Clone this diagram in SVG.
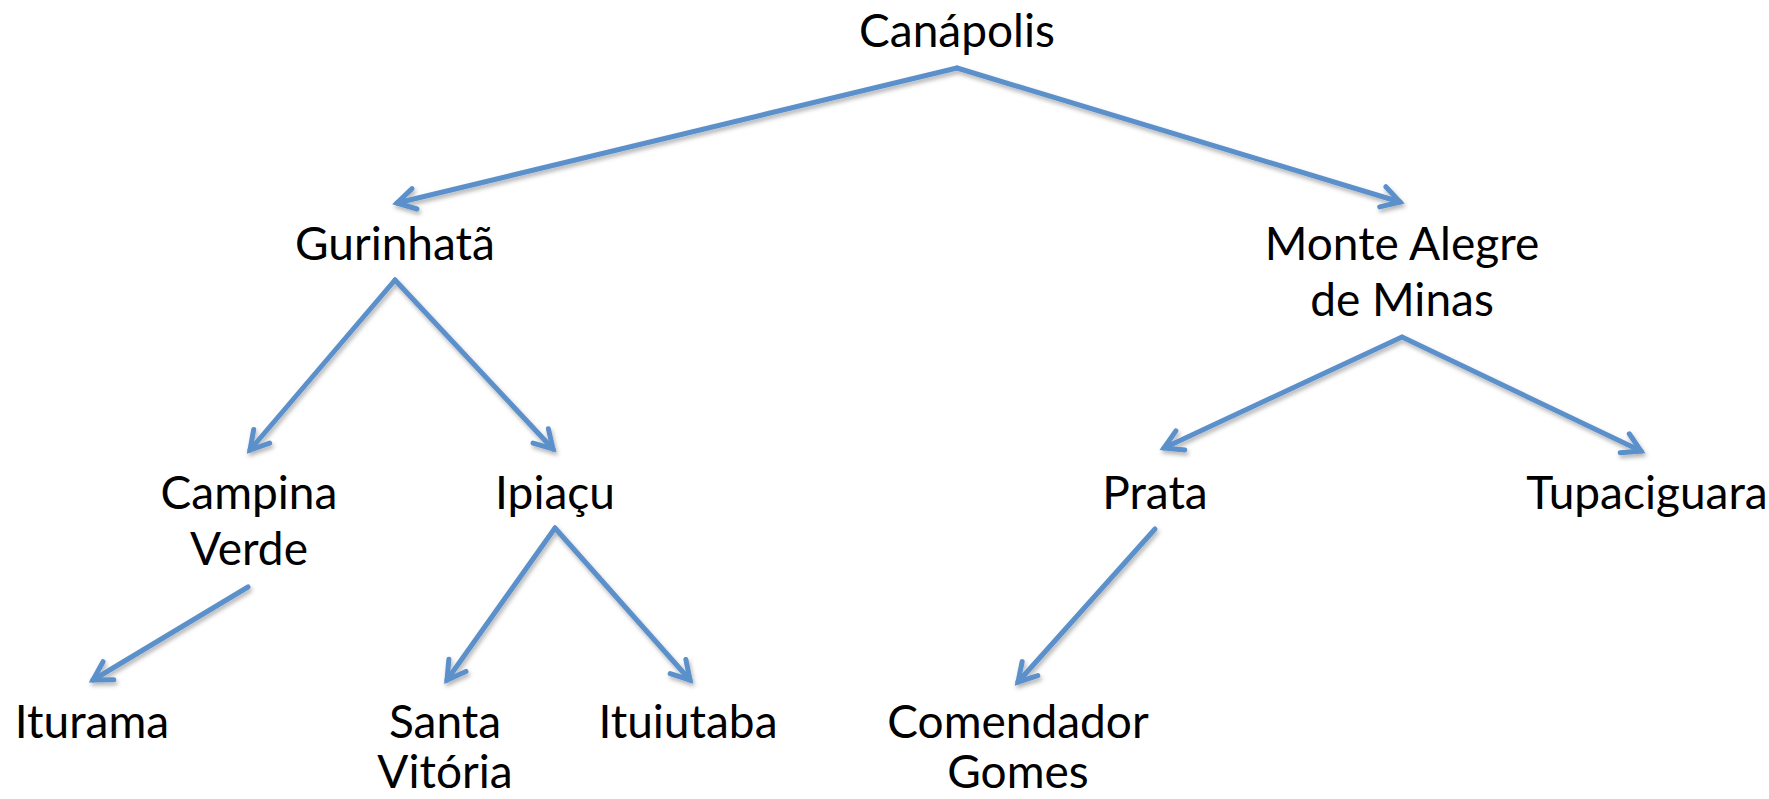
<svg xmlns="http://www.w3.org/2000/svg" width="1769" height="799" viewBox="0 0 1769 799">
  <style>
    text { font-family: Lato, "Open Sans", "Liberation Sans", sans-serif; font-size: 46px; fill: #000; text-anchor: middle; }
    .edge { fill: none; stroke: #5B90CB; stroke-width: 5; stroke-linecap: round; marker-end: url(#arrow); }
  </style>
  <defs>
    <filter id="shadow" x="-10%" y="-10%" width="120%" height="120%">
      <feDropShadow dx="1.5" dy="3" stdDeviation="2" flood-color="#000" flood-opacity="0.3"/>
    </filter>
    <marker id="arrow" markerUnits="userSpaceOnUse" markerWidth="40" markerHeight="40" refX="0" refY="0" viewBox="-25 -20 30 40" orient="auto" overflow="visible">
      <path d="M -18 -10.5 L 0 0 L -18 10.5" fill="none" stroke="#5B90CB" stroke-width="5" stroke-linecap="round" stroke-linejoin="miter"/>
    </marker>
  </defs>
  <rect width="1769" height="799" fill="#fff"/>
  <g id="connectors" filter="url(#shadow)">
    <line class="edge" x1="957" y1="68" x2="397" y2="203"/>
    <line class="edge" x1="957" y1="68" x2="1400" y2="202"/>
    <line class="edge" x1="395" y1="280" x2="250" y2="450"/>
    <line class="edge" x1="395" y1="280" x2="553" y2="449"/>
    <line class="edge" x1="1402" y1="337" x2="1164" y2="448"/>
    <line class="edge" x1="1402" y1="337" x2="1641" y2="451"/>
    <line class="edge" x1="248" y1="587" x2="93" y2="680"/>
    <line class="edge" x1="555" y1="528" x2="447" y2="680"/>
    <line class="edge" x1="555" y1="528" x2="690" y2="680"/>
    <line class="edge" x1="1155" y1="529" x2="1018" y2="682"/>
  </g>
  <g id="node-canapolis"><text x="957" y="47">Canápolis</text></g>
  <g id="node-gurinhata"><text x="395" y="260">Gurinhatã</text></g>
  <g id="node-monte-alegre"><text x="1402" y="260">Monte Alegre</text><text x="1402" y="316">de Minas</text></g>
  <g id="node-campina-verde"><text x="249" y="509">Campina</text><text x="249" y="565">Verde</text></g>
  <g id="node-ipiacu"><text x="555" y="509">Ipiaçu</text></g>
  <g id="node-prata"><text x="1155" y="509">Prata</text></g>
  <g id="node-tupaciguara"><text x="1647" y="509">Tupaciguara</text></g>
  <g id="node-iturama"><text x="92" y="738">Iturama</text></g>
  <g id="node-santa-vitoria"><text x="445" y="738">Santa</text><text x="445" y="788">Vitória</text></g>
  <g id="node-ituiutaba"><text x="688" y="738">Ituiutaba</text></g>
  <g id="node-comendador-gomes"><text x="1018" y="738">Comendador</text><text x="1018" y="788">Gomes</text></g>
</svg>
